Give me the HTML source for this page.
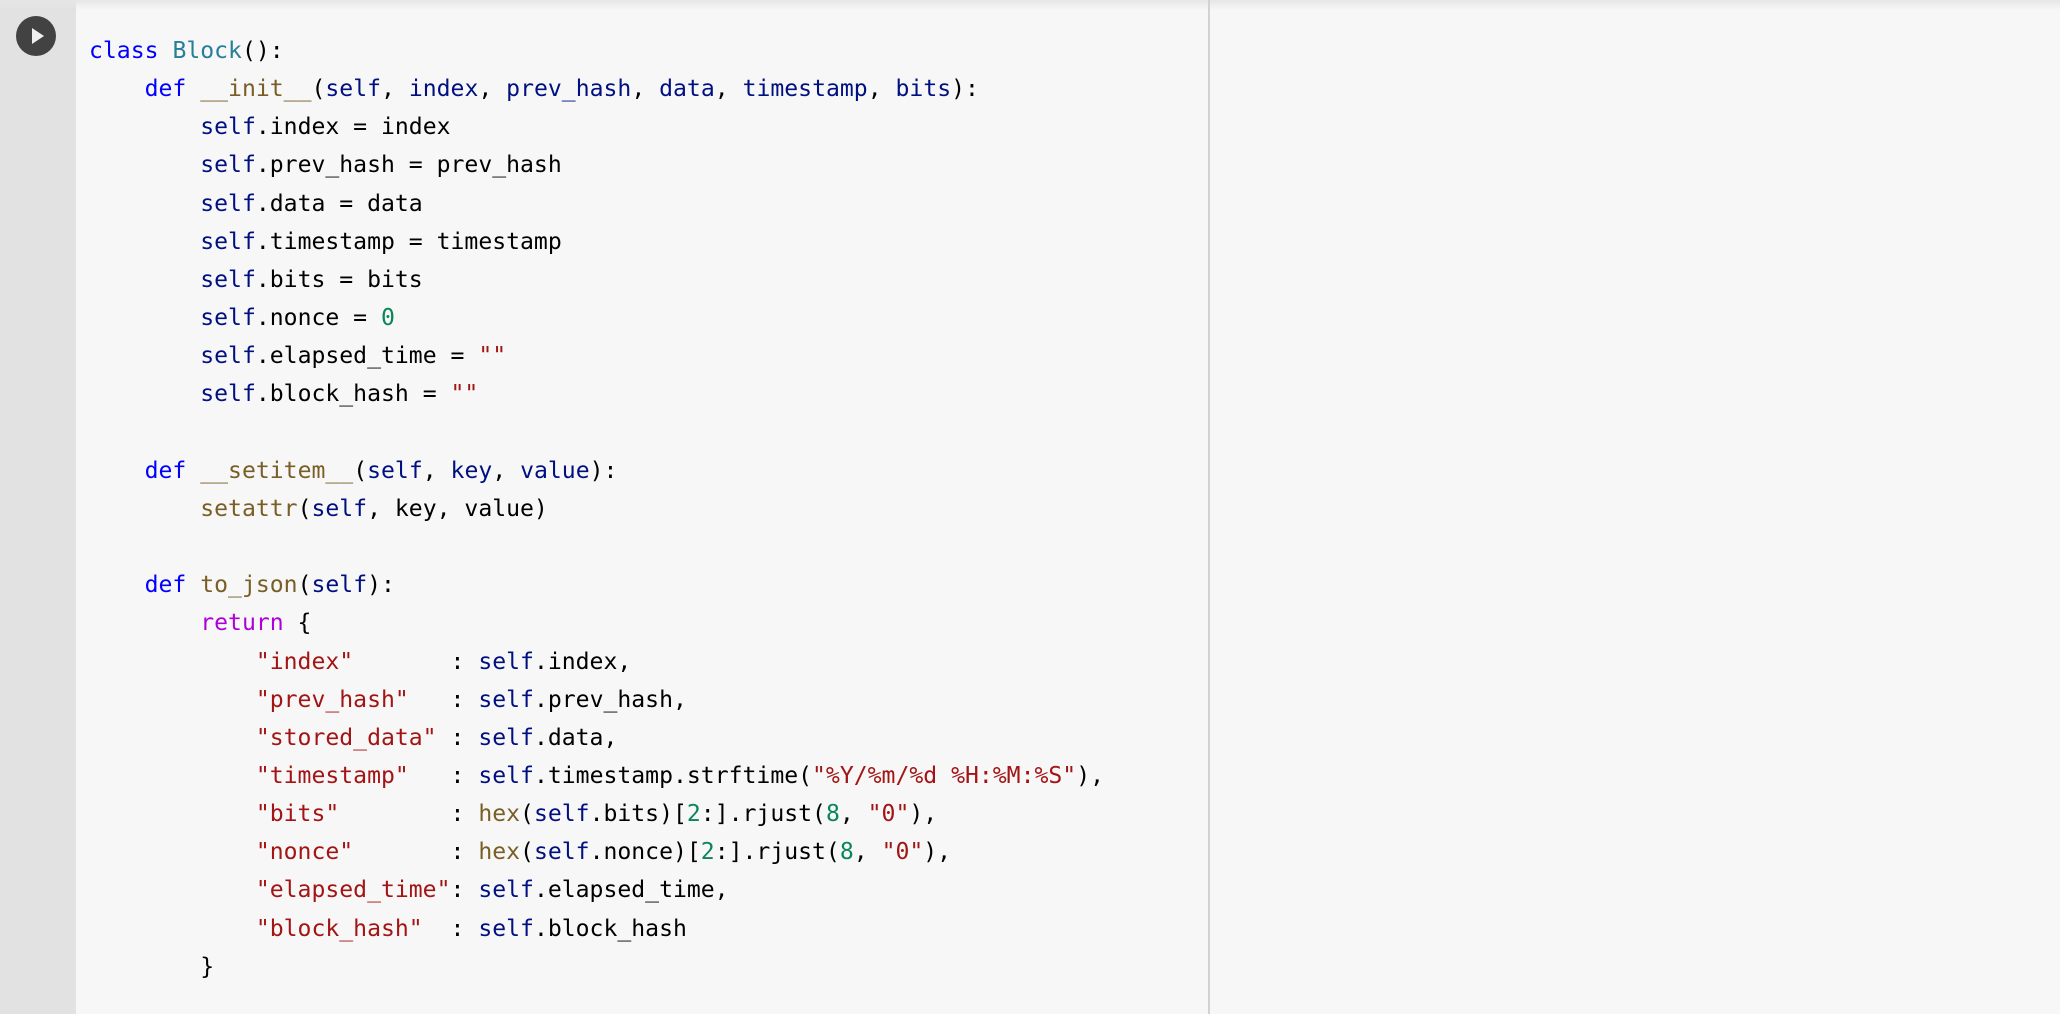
<!DOCTYPE html>
<html><head><meta charset="utf-8"><style>
html,body{margin:0;padding:0;width:2060px;height:1014px;overflow:hidden;background:#f7f7f7;}
.gut{position:absolute;left:0;top:0;width:76px;height:1014px;background:#e2e2e2;}
.shadow{position:absolute;left:0;top:0;width:2060px;height:10px;background:linear-gradient(#e6e6e6,rgba(247,247,247,0));}
.div{position:absolute;left:1208px;top:0;width:2px;height:1014px;background:#d2d2d2;}
.play{position:absolute;left:16px;top:16px;width:40px;height:40px;border-radius:50%;background:#424242;}
.play:after{content:"";position:absolute;left:16px;top:12px;border-left:12px solid #f0f0f0;border-top:8px solid transparent;border-bottom:8px solid transparent;}
pre{position:absolute;left:89px;top:32px;margin:0;font-family:"DejaVu Sans Mono","Liberation Mono",monospace;font-size:23.1px;line-height:38.15px;color:#000;}
.k{color:#0000ff}.c{color:#267f99}.f{color:#795e26}.v{color:#001080}.s{color:#a31515}.n{color:#098658}.r{color:#af00db}
</style></head><body>
<div class="gut"></div><div class="shadow"></div><div class="div"></div><div class="play"></div>
<pre><span class="k">class</span> <span class="c">Block</span>():
    <span class="k">def</span> <span class="f">__init__</span>(<span class="v">self</span>, <span class="v">index</span>, <span class="v">prev_hash</span>, <span class="v">data</span>, <span class="v">timestamp</span>, <span class="v">bits</span>):
        <span class="v">self</span>.index = index
        <span class="v">self</span>.prev_hash = prev_hash
        <span class="v">self</span>.data = data
        <span class="v">self</span>.timestamp = timestamp
        <span class="v">self</span>.bits = bits
        <span class="v">self</span>.nonce = <span class="n">0</span>
        <span class="v">self</span>.elapsed_time = <span class="s">""</span>
        <span class="v">self</span>.block_hash = <span class="s">""</span>

    <span class="k">def</span> <span class="f">__setitem__</span>(<span class="v">self</span>, <span class="v">key</span>, <span class="v">value</span>):
        <span class="f">setattr</span>(<span class="v">self</span>, key, value)

    <span class="k">def</span> <span class="f">to_json</span>(<span class="v">self</span>):
        <span class="r">return</span> {
            <span class="s">"index"</span>       : <span class="v">self</span>.index,
            <span class="s">"prev_hash"</span>   : <span class="v">self</span>.prev_hash,
            <span class="s">"stored_data"</span> : <span class="v">self</span>.data,
            <span class="s">"timestamp"</span>   : <span class="v">self</span>.timestamp.strftime(<span class="s">"%Y/%m/%d %H:%M:%S"</span>),
            <span class="s">"bits"</span>        : <span class="f">hex</span>(<span class="v">self</span>.bits)[<span class="n">2</span>:].rjust(<span class="n">8</span>, <span class="s">"0"</span>),
            <span class="s">"nonce"</span>       : <span class="f">hex</span>(<span class="v">self</span>.nonce)[<span class="n">2</span>:].rjust(<span class="n">8</span>, <span class="s">"0"</span>),
            <span class="s">"elapsed_time"</span>: <span class="v">self</span>.elapsed_time,
            <span class="s">"block_hash"</span>  : <span class="v">self</span>.block_hash
        }</pre>
</body></html>
